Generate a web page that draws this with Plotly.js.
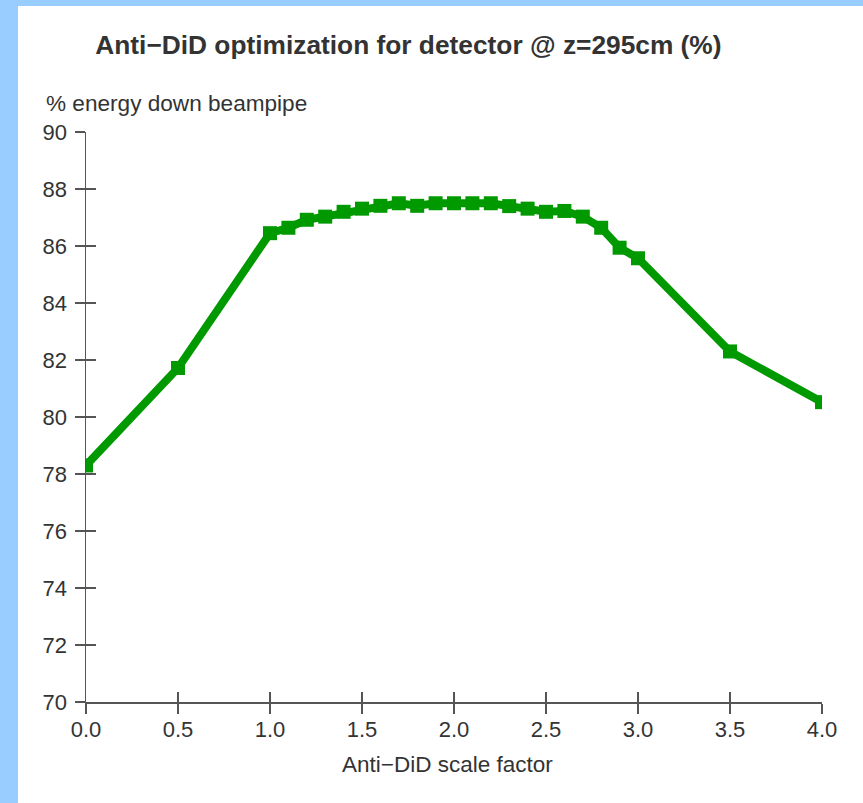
<!DOCTYPE html>
<html>
<head>
<meta charset="utf-8">
<script src="https://cdn.plot.ly/plotly-3.0.1.min.js"></script>
<style>
  html, body { margin: 0; padding: 0; background: #99ccff; width: 863px; height: 803px; overflow: hidden; }
  #chart { position: absolute; left: 18px; top: 6px; width: 845px; height: 797px; background: #ffffff; }
</style>
</head>
<body>
<div id="chart"></div>
<script>
const scaleFactor = [0.0, 0.5, 1.0, 1.1, 1.2, 1.3, 1.4, 1.5, 1.6, 1.7, 1.8, 1.9, 2.0, 2.1, 2.2, 2.3, 2.4, 2.5, 2.6, 2.7, 2.8, 2.9, 3.0, 3.5, 4.0];
const energyDown = [78.3, 81.72, 86.45, 86.64, 86.92, 87.03, 87.2, 87.31, 87.41, 87.5, 87.41, 87.5, 87.5, 87.5, 87.5, 87.4, 87.31, 87.2, 87.23, 87.03, 86.64, 85.94, 85.57, 82.3, 80.52];
const xTicks = [0, 0.5, 1, 1.5, 2, 2.5, 3, 3.5, 4];
const yTicks = [70, 72, 74, 76, 78, 80, 82, 84, 86, 88, 90];

const titleText = 'Anti\u2212DiD optimization for detector @ z=295cm (%)';
const xTitle = 'Anti\u2212DiD scale factor';
const yTitle = '% energy down beampipe';

const green = '#009900';
const axisCol = '#555555';
const textCol = '#333333';
const fontFam = 'Liberation Sans, Arial, sans-serif';

const traces = [
  {
    x: scaleFactor, y: energyDown, type: 'scatter', mode: 'lines+markers',
    line: { color: green, width: 8 },
    marker: { symbol: 'square', size: 14, color: green },
    xaxis: 'x', yaxis: 'y', hoverinfo: 'x+y'
  },
  {
    x: [0, 4], y: [70, 90], type: 'scatter', mode: 'markers',
    marker: { opacity: 0 }, xaxis: 'x2', yaxis: 'y2', hoverinfo: 'skip', showlegend: false
  }
];

const baseAxis = {
  showgrid: false, zeroline: false, showline: true, linecolor: axisCol, linewidth: 1.5,
  ticks: 'outside', ticklen: 10, tickwidth: 1.5, tickcolor: axisCol,
  tickfont: { family: fontFam, size: 22, color: textCol }, fixedrange: true
};

const layout = {
  width: 845, height: 797,
  margin: { l: 68, r: 41, t: 126, b: 101 },
  paper_bgcolor: '#ffffff', plot_bgcolor: '#ffffff',
  showlegend: false,
  title: {
    text: '<b>' + titleText + '</b>',
    font: { family: fontFam, size: 26.3, color: textCol },
    xref: 'container', x: 0.462, xanchor: 'center',
    yref: 'container', y: 1 - 39 / 797, yanchor: 'middle'
  },
  xaxis: Object.assign({}, baseAxis, {
    range: [0, 4], tickvals: xTicks, tickformat: '.1f', ticklabelstandoff: -3
  }),
  yaxis: Object.assign({}, baseAxis, {
    range: [70, 90], tickvals: yTicks, ticklabelstandoff: 3
  }),
  xaxis2: {
    overlaying: 'x', range: [0, 4], tickvals: xTicks, showticklabels: false,
    ticks: 'inside', ticklen: 10, tickwidth: 1.5, tickcolor: axisCol,
    showline: false, showgrid: false, zeroline: false, side: 'bottom', fixedrange: true
  },
  yaxis2: {
    overlaying: 'y', range: [70, 90], tickvals: yTicks, showticklabels: false,
    ticks: 'inside', ticklen: 10, tickwidth: 1.5, tickcolor: axisCol,
    showline: false, showgrid: false, zeroline: false, side: 'left', fixedrange: true
  },
  annotations: [
    {
      text: yTitle, xref: 'paper', yref: 'paper', x: -0.057, y: 1.05,
      xanchor: 'left', yanchor: 'middle', showarrow: false,
      font: { family: fontFam, size: 22.6, color: textCol }
    },
    {
      text: xTitle, xref: 'paper', yref: 'paper', x: 0.4905, y: -0.1105,
      xanchor: 'center', yanchor: 'middle', showarrow: false,
      font: { family: fontFam, size: 22.5, color: textCol }
    }
  ]
};

Plotly.newPlot('chart', traces, layout, { displayModeBar: false, staticPlot: true });
</script>
</body>
</html>
